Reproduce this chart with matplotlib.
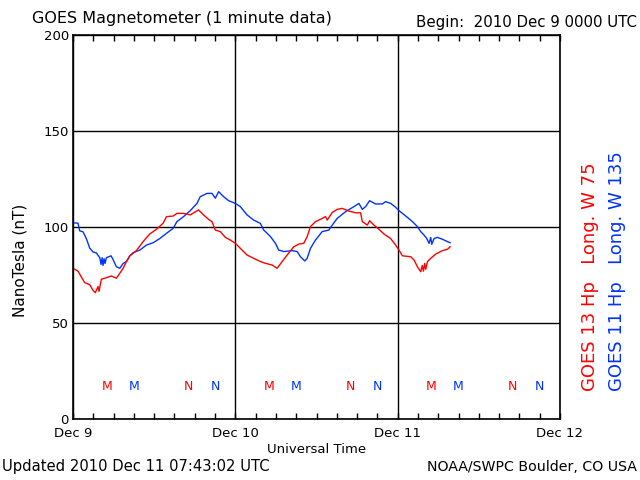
import matplotlib
matplotlib.use("Agg")
import matplotlib.pyplot as plt
from matplotlib.ticker import MultipleLocator

# hours since 2010 Dec 9 00:00 UTC
goes11_hours = [0.0, 0.74, 0.99, 1.48, 1.97, 2.47, 2.96, 3.45, 3.96, 4.15, 4.30, 4.44, 4.59, 4.74, 4.93,
                5.63, 5.93, 6.41, 6.92, 7.41, 7.90, 8.40, 8.89, 9.88, 10.86, 11.85, 12.84, 13.82, 14.81,
                15.36, 16.34, 17.33, 18.33, 18.81, 19.81, 20.55, 21.04, 21.53, 22.27, 23.01, 24.0, 24.74,
                25.73, 26.71, 27.70, 28.19, 28.44, 29.19, 29.93, 30.41, 31.16, 32.40, 33.14, 33.63, 34.27,
                34.62, 35.11, 35.85, 36.84, 37.82, 38.33, 39.07, 40.30, 41.53, 42.27, 42.77, 43.26, 43.85,
                44.74, 45.73, 46.22, 46.96, 47.70, 48.19, 48.70, 49.44, 50.18, 50.92, 51.41, 51.90, 52.30,
                52.64, 52.89, 53.04, 53.38, 53.88, 54.62, 55.36, 55.75]
goes11_nt = [102.2, 102, 98, 97.5, 94, 89, 87, 86.5, 84, 80.5, 84, 80, 83.5, 81, 84,
             85, 83, 79.3, 78.5, 81, 82, 85, 86.6, 88, 90.6, 91.8, 94, 96.7, 99.3,
             102.8, 105.4, 108.5, 112.3, 115.8, 117.5, 117.5, 115, 118.4, 115.8, 113.7, 112.3, 110.6,
             106.3, 103.6, 101.9, 98.4, 97.6, 95, 91.5, 88, 87.2, 87.7, 87.2, 84.5, 82.3,
             83.7, 88.9, 93.2, 97.6, 98.4, 101, 104.5, 108, 110.6, 112.3, 109.2, 110.6, 113.7,
             112, 112, 113.2, 112.3, 110.3, 108.5, 107.1, 105, 102.8, 100.2, 97.6, 95.8, 94,
             91.5, 94.5, 91, 94, 94.6, 93.6, 92.4, 91.8]

goes13_hours = [0.0, 0.74, 1.23, 1.73, 2.47, 2.96, 3.30, 3.70, 3.85, 4.19, 4.93, 5.67, 6.41, 6.92,
                7.41, 7.90, 8.40, 9.38, 10.37, 11.36, 12.34, 13.33, 13.82, 14.81, 15.36, 16.34, 17.33,
                18.56, 19.30, 20.04, 20.55, 21.04, 21.78, 22.52, 23.26, 24.0, 24.74, 25.73, 26.71, 27.70,
                28.44, 29.44, 30.18, 30.92, 31.66, 32.64, 33.38, 34.12, 34.62, 35.11, 35.85, 36.59, 37.33,
                37.59, 38.33, 39.07, 39.81, 40.79, 41.78, 42.52, 42.77, 43.51, 43.85, 44.49, 45.23, 45.96,
                46.96, 47.70, 48.19, 48.70, 49.93, 50.42, 50.92, 51.41, 51.63, 51.81, 52.0, 52.15, 52.40,
                52.89, 53.63, 54.62, 55.36, 55.75]
goes13_nt = [78.5, 77, 74, 71, 70, 67, 65.8, 69, 66.5, 72.8, 73.6, 74.5, 73.3, 75.9,
             78.5, 82, 85, 87.7, 92.4, 96.4, 98.8, 102, 105.4, 105.7, 107.1, 107.1, 106.3,
             108.9, 106.3, 104, 102.8, 98.4, 97.6, 94.6, 93.2, 91.5, 88.9, 85.4, 83.7, 82,
             81.1, 80.2, 78.5, 82, 85.4, 89.7, 91.1, 91.5, 95, 100.2, 102.8, 104, 105.4,
             103.6, 107.6, 109.2, 109.7, 108.3, 107.4, 107.4, 102.8, 101, 103.3, 101, 98.8, 96.4,
             94, 90.6, 88, 85, 84.5, 82.8, 79.3, 76.7, 80, 77, 81, 78, 82,
             83.7, 85.9, 87.7, 88.4, 89.7]

day_ticks = [0, 24, 48, 72]
day_labels = ["Dec 9", "Dec 10", "Dec 11", "Dec 12"]

# local midnight (M) / noon (N) markers
red_marker_hours = [5, 17, 29, 41, 53, 65]
red_marker_text = ["M", "N", "M", "N", "M", "N"]
blue_marker_hours = [9, 21, 33, 45, 57, 69]
blue_marker_text = ["M", "N", "M", "N", "M", "N"]
marker_level = 17

RED = "#ff0000"
BLUE = "#0033ff"

fig = plt.figure(figsize=(6.4, 4.8), dpi=100)
ax = fig.add_axes([73/640, 1-419/480, (560-73)/640, (419-35)/480])

ax.plot(goes11_hours, goes11_nt, color=BLUE, lw=1.0)
ax.plot(goes13_hours, goes13_nt, color=RED, lw=1.0)

ax.set_xlim(0, 72)
ax.set_ylim(0, 200)
ax.set_xticks(day_ticks)
ax.set_xticklabels(day_labels)
ax.xaxis.set_minor_locator(MultipleLocator(3))
ax.set_yticks([0, 50, 100, 150, 200])
ax.grid(True, which="major", color="black", lw=1)
ax.tick_params(axis="x", which="both", direction="in", top=True, length=4, width=1, labelsize=9.5, pad=6)
ax.tick_params(axis="y", which="major", direction="out", length=0, labelsize=9.5, pad=3)
for s in ax.spines.values():
    s.set_linewidth(1.2)

for h, t in zip(red_marker_hours, red_marker_text):
    ax.text(h, marker_level, t, color=RED, fontsize=9, ha="center", va="center")
for h, t in zip(blue_marker_hours, blue_marker_text):
    ax.text(h, marker_level, t, color=BLUE, fontsize=9, ha="center", va="center")

ax.set_xlabel("Universal Time", fontsize=9.5, labelpad=2)
fig.text(20/640, 1-260/480, "NanoTesla (nT)", fontsize=11, rotation=90, ha="center", va="center")

fig.text(32/640, 1-18/480, "GOES Magnetometer (1 minute data)", fontsize=11.5, ha="left", va="center")
fig.text(637/640, 1-22/480, "Begin:  2010 Dec 9 0000 UTC", fontsize=10.8, ha="right", va="center")
fig.text(2/640, 1-467/480, "Updated 2010 Dec 11 07:43:02 UTC", fontsize=10.6, ha="left", va="center")
fig.text(637/640, 1-467/480, "NOAA/SWPC Boulder, CO USA", fontsize=10.2, ha="right", va="center")
fig.text(590/640, 1-391/480, "GOES 13 Hp   Long. W 75", fontsize=13, color=RED, rotation=90,
         ha="center", va="bottom")
fig.text(617/640, 1-391/480, "GOES 11 Hp   Long. W 135", fontsize=13, color=BLUE, rotation=90,
         ha="center", va="bottom")

fig.savefig("out.png", dpi=100)
